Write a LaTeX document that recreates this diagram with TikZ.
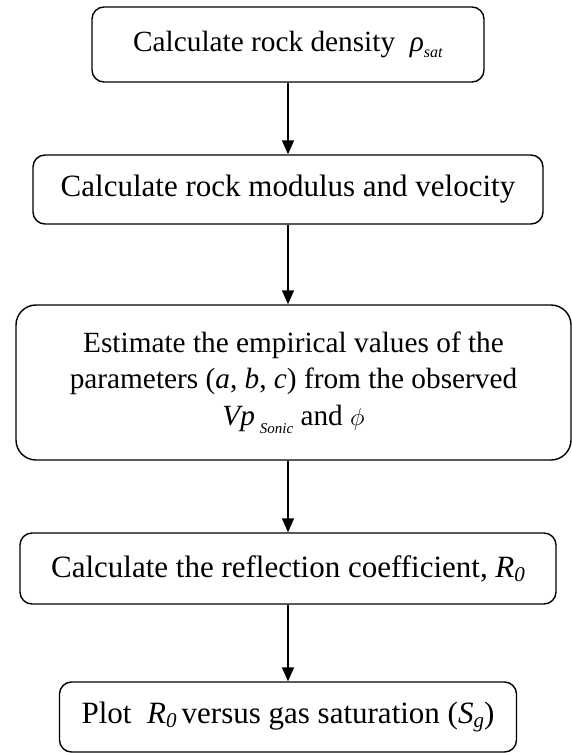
\documentclass[tikz,border=0pt]{standalone}
\usepackage{fontspec}
\setmainfont{Liberation Serif}
\usetikzlibrary{arrows.meta}

% lowered small italic index: size, drop, text
\newcommand{\subtxt}[3]{\raisebox{-#2}{\fontsize{#1}{#1}\selectfont\textit{#3}}}

\begin{document}
\begin{tikzpicture}[x=1pt, y=-1pt,
  stepbox/.style={draw, line width=1.4pt, rounded corners=12pt, align=center,
    inner sep=0pt, font=\fontsize{29.3}{36.5}\selectfont},
  bigtext/.style={font=\fontsize{31}{37}\selectfont},
  flow/.style={line width=1.4pt, -{Triangle[length=14pt,width=12pt]}}]

\useasboundingbox (0,0) rectangle (572,753);

% Process boxes
\node[stepbox, minimum width=392pt, minimum height=75pt] (box1) at (288,44.5)
  {Calculate rock density\ \ \textit{ρ}\subtxt{16pt}{6pt}{sat}};
\node[stepbox, bigtext, minimum width=510pt, minimum height=69pt] (box2) at (288,189.5)
  {Calculate rock modulus and velocity};
\node[stepbox, rounded corners=20pt, minimum width=555pt, minimum height=155pt] (box3) at (293.5,382.5)
  {Estimate the empirical values of the\\
   parameters (\textit{a}, \textit{b}, \textit{c}) from the observed\\
   \textit{Vp}\,\subtxt{15pt}{8pt}{Sonic} and $\phi$};
\node[stepbox, bigtext, minimum width=536pt, minimum height=71pt] (box4) at (288,568.5)
  {Calculate the reflection coefficient, \textit{R}\subtxt{21pt}{4pt}{0}};
\node[stepbox, bigtext, minimum width=457pt, minimum height=70pt] (box5) at (288,717)
  {Plot\ \ \textit{R}\subtxt{21pt}{4pt}{0}\,versus gas saturation (\textit{S}\subtxt{21pt}{4pt}{g})};

% Arrows between steps
\foreach \a/\b in {box1/box2, box2/box3, box3/box4, box4/box5}
  \draw[flow] (\a.south -| box1.south) -- (\b.north -| box1.south);

\end{tikzpicture}
\end{document}
